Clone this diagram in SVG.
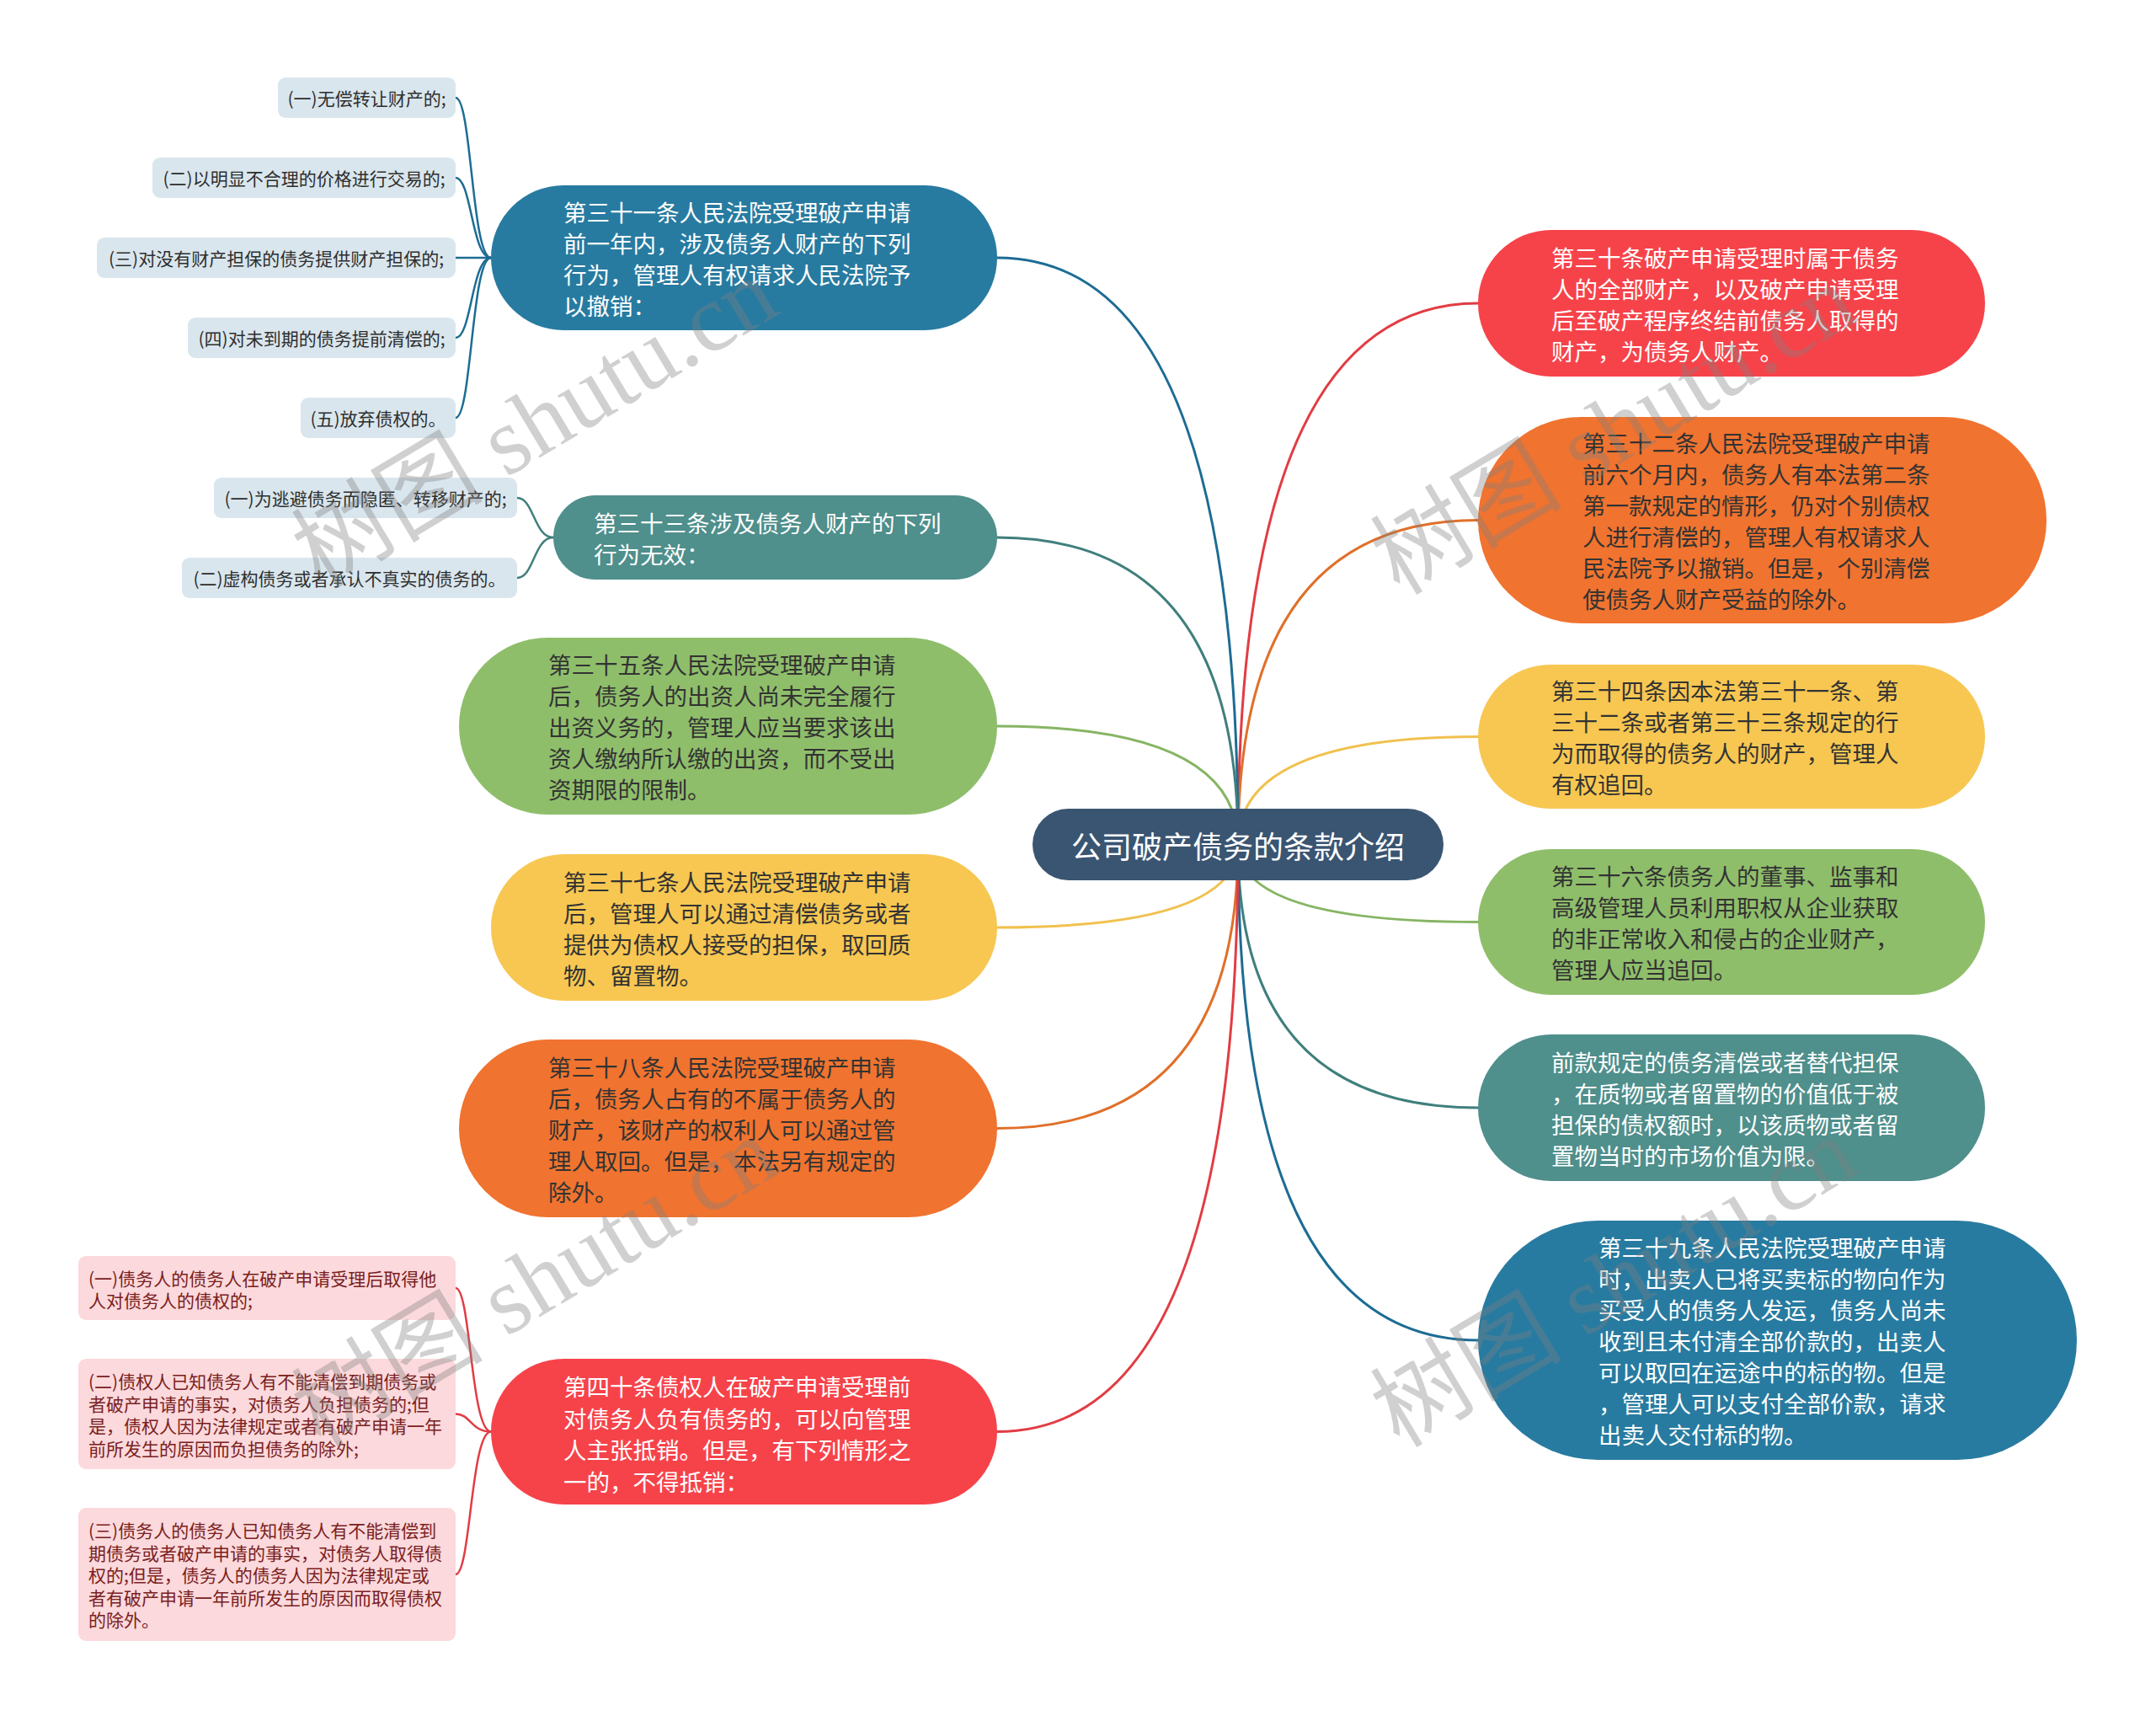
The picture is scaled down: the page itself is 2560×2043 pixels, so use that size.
<svg xmlns="http://www.w3.org/2000/svg" width="2560" height="2043" viewBox="0 0 2560 2043">
<style>
.t{font-family:"Noto Sans CJK SC","Liberation Sans",sans-serif;font-size:27.5px;dominant-baseline:central}
.w{fill:#ffffff}
.d{fill:#333333}
.lf{font-family:"Noto Sans CJK SC","Liberation Sans",sans-serif;font-size:21px;dominant-baseline:central;fill:#2e2e2e;text-anchor:middle}
.pk{font-family:"Noto Sans CJK SC","Liberation Sans",sans-serif;font-size:21px;dominant-baseline:central;fill:#7a2020}
.c{fill:none;stroke-width:3;stroke-linecap:round}
.b{fill:none;stroke-width:2.5;stroke-linecap:round}
.wm{font-family:"Liberation Serif","Noto Sans CJK SC",serif;font-size:114px;fill:#808080;opacity:0.36;text-anchor:middle}
</style>
<rect x="0" y="0" width="2560" height="2043" fill="#ffffff"/>
<g id="connectors">
<path class="c" stroke="#e23c43" d="M1470 1002 Q1470 360 1755 360"/>
<path class="c" stroke="#e0702a" d="M1470 1002 Q1470 617.5 1755 617.5"/>
<path class="c" stroke="#f1c14f" d="M1470 1002 Q1470 874.5 1755 874.5"/>
<path class="c" stroke="#86b563" d="M1470 1002 Q1470 1094.5 1755 1094.5"/>
<path class="c" stroke="#3f7f7c" d="M1470 1002 Q1470 1315 1755 1315"/>
<path class="c" stroke="#1d6c94" d="M1470 1002 Q1470 1591 1755 1591"/>
<path class="c" stroke="#1d6c94" d="M1470 1002 Q1470 306 1184 306"/>
<path class="c" stroke="#3f7f7c" d="M1470 1002 Q1470 638 1184 638"/>
<path class="c" stroke="#86b563" d="M1470 1002 Q1470 862 1184 862"/>
<path class="c" stroke="#f1c14f" d="M1470 1002 Q1470 1101 1184 1101"/>
<path class="c" stroke="#e0702a" d="M1470 1002 Q1470 1339.5 1184 1339.5"/>
<path class="c" stroke="#e23c43" d="M1470 1002 Q1470 1699.5 1184 1699.5"/>
<path class="b" stroke="#1d6c94" d="M583 306 C560 306 560 116 541 116"/>
<path class="b" stroke="#1d6c94" d="M583 306 C560 306 560 211 541 211"/>
<path class="b" stroke="#1d6c94" d="M583 306 L541 306"/>
<path class="b" stroke="#1d6c94" d="M583 306 C560 306 560 401 541 401"/>
<path class="b" stroke="#1d6c94" d="M583 306 C560 306 560 496 541 496"/>
<path class="b" stroke="#3f7f7c" d="M657 638 C634 638 634 591 614 591"/>
<path class="b" stroke="#3f7f7c" d="M657 638 C634 638 634 686 614 686"/>
<path class="b" stroke="#e23c43" d="M583 1699.5 C559 1699.5 559 1529 541 1529"/>
<path class="b" stroke="#e23c43" d="M583 1699.5 C559 1699.5 559 1678.5 541 1678.5"/>
<path class="b" stroke="#e23c43" d="M583 1699.5 C559 1699.5 559 1869 541 1869"/>
</g>
<g id="root">
<rect x="1226" y="960" width="488" height="85" rx="42.5" fill="#3a5572"/>
<text x="1470" y="1002.5" font-family="Noto Sans CJK SC, Liberation Sans, sans-serif" font-size="36" fill="#ffffff" text-anchor="middle" dominant-baseline="central">公司破产债务的条款介绍</text>
</g>
<g id="n30">
<rect x="1755" y="273" width="602" height="174" rx="87" fill="#f6434a"/>
<text class="t w"><tspan x="1842" y="304.5">第三十条破产申请受理时属于债务</tspan><tspan x="1842" y="341.5">人的全部财产，以及破产申请受理</tspan><tspan x="1842" y="378.5">后至破产程序终结前债务人取得的</tspan><tspan x="1842" y="415.5">财产，为债务人财产。</tspan></text>
</g>
<g id="n32">
<rect x="1755" y="495" width="675" height="245" rx="122.5" fill="#f0732f"/>
<text class="t d"><tspan x="1879" y="525">第三十二条人民法院受理破产申请</tspan><tspan x="1879" y="562">前六个月内，债务人有本法第二条</tspan><tspan x="1879" y="599">第一款规定的情形，仍对个别债权</tspan><tspan x="1879" y="636">人进行清偿的，管理人有权请求人</tspan><tspan x="1879" y="673">民法院予以撤销。但是，个别清偿</tspan><tspan x="1879" y="710">使债务人财产受益的除外。</tspan></text>
</g>
<g id="n34">
<rect x="1755" y="789" width="602" height="171" rx="85.5" fill="#f7c752"/>
<text class="t d"><tspan x="1842" y="819">第三十四条因本法第三十一条、第</tspan><tspan x="1842" y="856">三十二条或者第三十三条规定的行</tspan><tspan x="1842" y="893">为而取得的债务人的财产，管理人</tspan><tspan x="1842" y="930">有权追回。</tspan></text>
</g>
<g id="n36">
<rect x="1755" y="1008" width="602" height="173" rx="86.5" fill="#8fbe6b"/>
<text class="t d"><tspan x="1842" y="1039">第三十六条债务人的董事、监事和</tspan><tspan x="1842" y="1076">高级管理人员利用职权从企业获取</tspan><tspan x="1842" y="1113">的非正常收入和侵占的企业财产，</tspan><tspan x="1842" y="1150">管理人应当追回。</tspan></text>
</g>
<g id="nqk">
<rect x="1755" y="1228" width="602" height="174" rx="87" fill="#4f8f8c"/>
<text class="t w"><tspan x="1842" y="1259.5">前款规定的债务清偿或者替代担保</tspan><tspan x="1842" y="1296.5">，在质物或者留置物的价值低于被</tspan><tspan x="1842" y="1333.5">担保的债权额时，以该质物或者留</tspan><tspan x="1842" y="1370.5">置物当时的市场价值为限。</tspan></text>
</g>
<g id="n39">
<rect x="1755" y="1449" width="711" height="284" rx="142" fill="#287ba0"/>
<text class="t w"><tspan x="1898" y="1480">第三十九条人民法院受理破产申请</tspan><tspan x="1898" y="1517">时，出卖人已将买卖标的物向作为</tspan><tspan x="1898" y="1554">买受人的债务人发运，债务人尚未</tspan><tspan x="1898" y="1591">收到且未付清全部价款的，出卖人</tspan><tspan x="1898" y="1628">可以取回在运途中的标的物。但是</tspan><tspan x="1898" y="1665">，管理人可以支付全部价款，请求</tspan><tspan x="1898" y="1702">出卖人交付标的物。</tspan></text>
</g>
<g id="n31">
<rect x="583" y="220" width="601" height="172" rx="86" fill="#287ba0"/>
<text class="t w"><tspan x="669" y="250.5">第三十一条人民法院受理破产申请</tspan><tspan x="669" y="287.5">前一年内，涉及债务人财产的下列</tspan><tspan x="669" y="324.5">行为，管理人有权请求人民法院予</tspan><tspan x="669" y="361.5">以撤销：</tspan></text>
</g>
<g id="n31a"><rect x="330" y="92" width="211" height="48" rx="9" fill="#d9e6ed"/><text class="lf" x="435.5" y="116">(一)无偿转让财产的;</text></g>
<g id="n31b"><rect x="181" y="187" width="360" height="48" rx="9" fill="#d9e6ed"/><text class="lf" x="361" y="211">(二)以明显不合理的价格进行交易的;</text></g>
<g id="n31c"><rect x="115" y="282" width="426" height="48" rx="9" fill="#d9e6ed"/><text class="lf" x="328" y="306">(三)对没有财产担保的债务提供财产担保的;</text></g>
<g id="n31d"><rect x="223" y="377" width="318" height="48" rx="9" fill="#d9e6ed"/><text class="lf" x="382" y="401">(四)对未到期的债务提前清偿的;</text></g>
<g id="n31e"><rect x="357" y="472" width="184" height="48" rx="9" fill="#d9e6ed"/><text class="lf" x="449" y="496">(五)放弃债权的。</text></g>
<g id="n33">
<rect x="657" y="588" width="527" height="100" rx="50" fill="#4f8f8c"/>
<text class="t w"><tspan x="705" y="619.5">第三十三条涉及债务人财产的下列</tspan><tspan x="705" y="656.5">行为无效：</tspan></text>
</g>
<g id="n33a"><rect x="254" y="567" width="360" height="48" rx="9" fill="#d9e6ed"/><text class="lf" x="434" y="591">(一)为逃避债务而隐匿、转移财产的;</text></g>
<g id="n33b"><rect x="216" y="662" width="398" height="48" rx="9" fill="#d9e6ed"/><text class="lf" x="415" y="686">(二)虚构债务或者承认不真实的债务的。</text></g>
<g id="n35">
<rect x="545" y="757" width="639" height="210" rx="105" fill="#8fbe6b"/>
<text class="t d"><tspan x="651" y="788">第三十五条人民法院受理破产申请</tspan><tspan x="651" y="825">后，债务人的出资人尚未完全履行</tspan><tspan x="651" y="862">出资义务的，管理人应当要求该出</tspan><tspan x="651" y="899">资人缴纳所认缴的出资，而不受出</tspan><tspan x="651" y="936">资期限的限制。</tspan></text>
</g>
<g id="n37">
<rect x="583" y="1014" width="601" height="174" rx="87" fill="#f7c752"/>
<text class="t d"><tspan x="669" y="1045.5">第三十七条人民法院受理破产申请</tspan><tspan x="669" y="1082.5">后，管理人可以通过清偿债务或者</tspan><tspan x="669" y="1119.5">提供为债权人接受的担保，取回质</tspan><tspan x="669" y="1156.5">物、留置物。</tspan></text>
</g>
<g id="n38">
<rect x="545" y="1234" width="639" height="211" rx="105.5" fill="#f0732f"/>
<text class="t d"><tspan x="651" y="1265.5">第三十八条人民法院受理破产申请</tspan><tspan x="651" y="1302.5">后，债务人占有的不属于债务人的</tspan><tspan x="651" y="1339.5">财产，该财产的权利人可以通过管</tspan><tspan x="651" y="1376.5">理人取回。但是，本法另有规定的</tspan><tspan x="651" y="1413.5">除外。</tspan></text>
</g>
<g id="n40">
<rect x="583" y="1613" width="601" height="173" rx="86.5" fill="#f6434a"/>
<text class="t w"><tspan x="669" y="1645">第四十条债权人在破产申请受理前</tspan><tspan x="669" y="1682.5">对债务人负有债务的，可以向管理</tspan><tspan x="669" y="1720">人主张抵销。但是，有下列情形之</tspan><tspan x="669" y="1757.5">一的，不得抵销：</tspan></text>
</g>
<g id="n40a"><rect x="93" y="1491" width="448" height="76" rx="9" fill="#fbd9dc"/><text class="pk"><tspan x="105" y="1516.5">(一)债务人的债务人在破产申请受理后取得他</tspan><tspan x="105" y="1543">人对债务人的债权的;</tspan></text></g>
<g id="n40b"><rect x="93" y="1613" width="448" height="131" rx="9" fill="#fbd9dc"/><text class="pk"><tspan x="105" y="1639">(二)债权人已知债务人有不能清偿到期债务或</tspan><tspan x="105" y="1665.5">者破产申请的事实，对债务人负担债务的;但</tspan><tspan x="105" y="1692">是，债权人因为法律规定或者有破产申请一年</tspan><tspan x="105" y="1718.5">前所发生的原因而负担债务的除外;</tspan></text></g>
<g id="n40c"><rect x="93" y="1790" width="448" height="158" rx="9" fill="#fbd9dc"/><text class="pk"><tspan x="105" y="1816">(三)债务人的债务人已知债务人有不能清偿到</tspan><tspan x="105" y="1842.5">期债务或者破产申请的事实，对债务人取得债</tspan><tspan x="105" y="1869">权的;但是，债务人的债务人因为法律规定或</tspan><tspan x="105" y="1895.5">者有破产申请一年前所发生的原因而取得债权</tspan><tspan x="105" y="1922">的除外。</tspan></text></g>
<g id="watermarks">
<text class="wm" transform="translate(655 535) rotate(-31)">树图 shutu.cn</text>
<text class="wm" transform="translate(1936 543) rotate(-31)">树图 shutu.cn</text>
<text class="wm" transform="translate(655 1555) rotate(-31)">树图 shutu.cn</text>
<text class="wm" transform="translate(1936 1555) rotate(-31)">树图 shutu.cn</text>
</g>
</svg>
